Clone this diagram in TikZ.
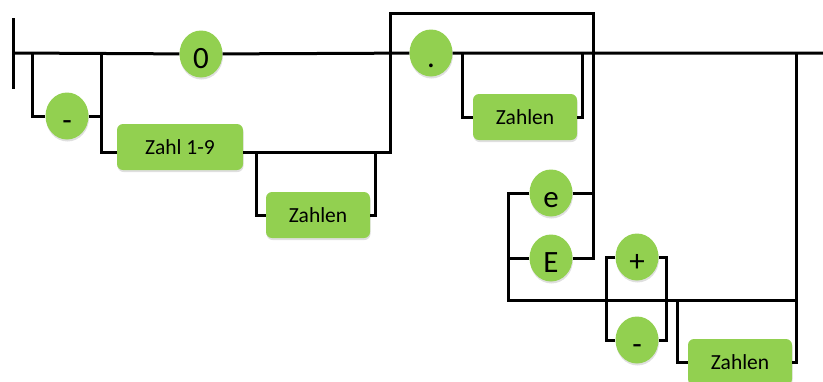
\documentclass[tikz,border=0pt]{standalone}
\usepackage{fontspec}
\setmainfont{Carlito}
\usetikzlibrary{shapes.geometric,shadows}
\definecolor{railgreen}{HTML}{92D050}

\tikzset{
  rail/.style={line width=3pt},
  term/.style={ellipse,fill=railgreen,inner sep=0pt,minimum width=43pt,minimum height=47pt,
    font=\fontsize{31}{31}\selectfont,text height=28pt,text depth=0pt,
    drop shadow={shadow xshift=0.5pt,shadow yshift=-2pt,opacity=0.25}},
  nonterm/.style={rectangle,rounded corners=6pt,fill=railgreen,minimum width=104pt,minimum height=46pt,
    font=\fontsize{21.5}{22}\selectfont,
    drop shadow={shadow xshift=0.5pt,shadow yshift=-2pt,opacity=0.25}}
}

\begin{document}
\begin{tikzpicture}[x=1pt,y=-1pt]
\useasboundingbox (0,0) rectangle (823,381);
% terminals and non-terminals
\node[term] (zero) at (201,54) {0};
\node[term] (sign) at (67,116) {-};
\node[nonterm,minimum width=126pt] (first) at (180,147) {Zahl 1-9};
\node[nonterm] (intdigits) at (318,215) {Zahlen};
\node[term] (point) at (431,53) {.};
\node[nonterm] (fracdigits) at (525,117) {Zahlen};
\node[term] (elow) at (551,193) {e};
\node[term] (eup) at (551,258) {E};
\node[term] (plus) at (637,257) {+};
\node[term] (minus) at (637,340) {-};
\node[nonterm] (expdigits) at (740,362) {Zahlen};
\coordinate (start) at (13,53);
\coordinate (end) at (823,53);
% main track
\draw[rail] (13,18) -- (13,89);
\draw[rail] (start) -- (zero) -- (point) -- (end);
% optional sign
\draw[rail] (32,53) |- (sign);
\draw[rail] (sign) -| (101,53);
% integer part
\draw[rail] (101,53) |- ([yshift=-5pt]first.west);
\draw[rail] ([yshift=-5pt]first.east) -| (390,13) -| (593,258) -- (eup);
\draw[rail] (256,152) |- (intdigits);
\draw[rail] (intdigits) -| (375,152);
% fraction
\draw[rail] (462,53) |- (fracdigits);
\draw[rail] (fracdigits) -| (582,53);
% exponent
\draw[rail] (elow) -- (593,193);
\draw[rail] (elow) -| (508,300) -| (796,53);
\draw[rail] (508,258) -- (eup);
\draw[rail] (plus) -| (606,340) -- (minus);
\draw[rail] (plus) -| (666,340) -- (minus);
\draw[rail] (677,300) |- (expdigits);
\draw[rail] (expdigits) -| (796,300);
\end{tikzpicture}
\end{document}
